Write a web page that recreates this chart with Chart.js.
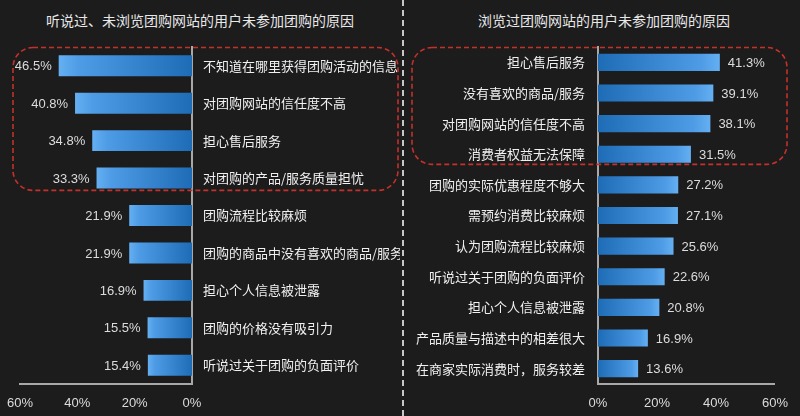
<!DOCTYPE html>
<html><head><meta charset="utf-8">
<script src="https://cdn.jsdelivr.net/npm/chart.js@4"></script>
<style>
html,body{margin:0;padding:0;background:#1c1c1c;}
#wrap{position:relative;width:800px;height:416px;background:#1c1c1c;overflow:hidden;}
canvas{position:absolute;top:0;left:0;}
.title{position:absolute;top:10px;color:#e8e8e8;font:14px "Noto Sans CJK SC","Liberation Sans",sans-serif;line-height:20px;text-align:center;white-space:nowrap;}
#divider{position:absolute;left:402px;top:0;height:416px;width:0;border-left:2px dashed #c8c8c8;}
</style></head>
<body><div id="wrap">
<div class="title" style="left:0;width:400px;" id="t1"></div>
<div class="title" style="left:404px;width:400px;" id="t2"></div>
<div id="divider"></div>
<div style="position:absolute;left:0;top:0;width:400px;height:416px"><canvas id="c1" width="400" height="416"></canvas></div>
<div style="position:absolute;left:400px;top:0;width:400px;height:416px"><canvas id="c2" width="400" height="416"></canvas></div>
</div>
<script>
const leftTitle = "听说过、未浏览团购网站的用户未参加团购的原因";
const leftCategories = ["不知道在哪里获得团购活动的信息","对团购网站的信任度不高","担心售后服务","对团购的产品/服务质量担忧","团购流程比较麻烦","团购的商品中没有喜欢的商品/服务","担心个人信息被泄露","团购的价格没有吸引力","听说过关于团购的负面评价"];
const leftValues = [46.5,40.8,34.8,33.3,21.9,21.9,16.9,15.5,15.4];
const rightTitle = "浏览过团购网站的用户未参加团购的原因";
const rightCategories = ["担心售后服务","没有喜欢的商品/服务","对团购网站的信任度不高","消费者权益无法保障","团购的实际优惠程度不够大","需预约消费比较麻烦","认为团购流程比较麻烦","听说过关于团购的负面评价","担心个人信息被泄露","产品质量与描述中的相差很大","在商家实际消费时，服务较差"];
const rightValues = [41.3,39.1,38.1,31.5,27.2,27.1,25.6,22.6,20.8,16.9,13.6];
const axisTicks = [0,20,40,60];
const highlightCount = 4;

document.getElementById('t1').textContent = leftTitle;
document.getElementById('t2').textContent = rightTitle;

const FONT = '"Liberation Sans","Noto Sans CJK SC",sans-serif';
const CJK = '"Noto Sans CJK SC","Liberation Sans",sans-serif';

function barGradient(ctx){
  const chart = ctx.chart;
  if(!chart.chartArea || ctx.raw === undefined) return '#3a8ad8';
  const xs = chart.scales.x;
  const x0 = xs.getPixelForValue(0), x1 = xs.getPixelForValue(ctx.raw);
  const g = chart.ctx.createLinearGradient(x0,0,x1,0);
  g.addColorStop(0,'#1e6cb6');
  g.addColorStop(0.85,'#4f9ce6');
  g.addColorStop(1,'#65b0f2');
  return g;
}

function makePlugin(side, rect){
  return {
    id:'extras'+side,
    afterDatasetsDraw(chart){
      const c = chart.ctx;
      const meta = chart.getDatasetMeta(0);
      c.save();
      c.font = '13px '+FONT;
      c.fillStyle = '#dcdcdc';
      c.textBaseline = 'middle';
      meta.data.forEach((el,i)=>{
        const v = chart.data.datasets[0].data[i].toFixed(1)+'%';
        if(side==='L'){ c.textAlign='right'; c.fillText(v, el.x-7, el.y+1); }
        else { c.textAlign='left'; c.fillText(v, el.x+8, el.y+1); }
      });
      const ys = chart.scales.y;
      const p0 = ys.getPixelForValue(0), p1 = ys.getPixelForValue(1);
      const sp = p1-p0;
      const top = p0 - sp*0.5 + 0.5;
      const bot = ys.getPixelForValue(highlightCount-1) + sp*0.33;
      c.strokeStyle = '#c4302a';
      c.lineWidth = 1.6;
      c.setLineDash([5,3]);
      c.beginPath();
      c.roundRect(rect[0], top, rect[1]-rect[0], bot-top, 20);
      c.stroke();
      c.restore();
    }
  };
}

function makeChart(id, cats, vals, side){
  const isL = side==='L';
  return new Chart(document.getElementById(id), {
    type:'bar',
    data:{labels:cats, datasets:[{data:vals, backgroundColor:barGradient, borderWidth:0, barPercentage:0.56, categoryPercentage:1}]},
    options:{
      indexAxis:'y',
      responsive:false,
      animation:false,
      layout:{padding:{top:47, left: isL?20:0, right: isL?0:17, bottom:0}},
      plugins:{legend:{display:false}, tooltip:{enabled:false}, title:{display:false}},
      scales:{
        x:{
          reverse:isL, min:0, max:60,
          afterBuildTicks(s){ s.ticks = axisTicks.map(v=>({value:v})); },
          afterFit(s){ s.height = 32; },
          grid:{display:false, drawTicks:false},
          border:{display:true, color:'#a8a8a8', width:2},
          ticks:{color:'#dcdcdc', padding:12, font:{size:13, family:FONT}, callback:v=>v+'%', maxRotation:0, autoSkip:false}
        },
        y:{
          position: isL?'right':'left',
          afterFit(s){ s.width = isL?208:198; },
          grid:{display:false, drawTicks:false},
          border:{display:true, color:'#a8a8a8', width:2},
          ticks:{color:'#f0f0f0', padding: isL?11:13, font:{size:13, family:CJK}, autoSkip:false}
        }
      }
    },
    plugins:[makePlugin(side, isL?[13,398]:[12,387])]
  });
}
makeChart('c1', leftCategories, leftValues, 'L');
makeChart('c2', rightCategories, rightValues, 'R');
</script>
</body></html>
